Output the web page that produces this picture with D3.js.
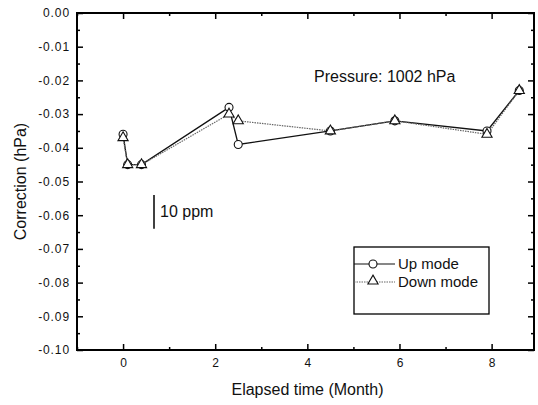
<!DOCTYPE html>
<html><head><meta charset="utf-8">
<script src="https://cdn.jsdelivr.net/npm/d3@7"></script>
<style>body{margin:0;background:#fff}svg{display:block}text{font-family:"Liberation Sans",Arial,sans-serif;fill:#111}</style>
</head><body><svg id="c" width="538" height="405"></svg>
<script>
const upMonths   = [0, 0.1, 0.4, 2.3, 2.5, 4.5, 5.9, 7.9, 8.6];
const upValues   = [-0.036, -0.045, -0.045, -0.028, -0.039, -0.035, -0.032, -0.035, -0.023];
const downMonths = [0, 0.1, 0.4, 2.3, 2.5, 4.5, 5.9, 7.9, 8.6];
const downValues = [-0.037, -0.045, -0.045, -0.030, -0.032, -0.035, -0.032, -0.036, -0.023];
const xTicks = [0, 2, 4, 6, 8];
const xMinor = [-1, 1, 3, 5, 7];
const yTicks = [0, -0.01, -0.02, -0.03, -0.04, -0.05, -0.06, -0.07, -0.08, -0.09, -0.10];
const yMinor = [-0.005, -0.015, -0.025, -0.035, -0.045, -0.055, -0.065, -0.075, -0.085, -0.095];

const L = 77, R = 534, T = 13, B = 350;
const svg = d3.select("#c");
const x = d3.scaleLinear().domain([-1, 8.92]).range([L, R]);
const y = d3.scaleLinear().domain([-0.10, 0]).range([B, T]);

function styleAxis(g){ g.select(".domain").remove(); g.selectAll("line").attr("stroke","#000").attr("stroke-width",1.5); g.selectAll("text").attr("font-size",12).attr("fill","#222"); }
svg.append("g").attr("transform",`translate(0,${B})`).call(d3.axisTop(x).tickValues(xTicks).tickSize(6).tickFormat("")).call(styleAxis);
svg.append("g").attr("transform",`translate(0,${B})`).call(d3.axisTop(x).tickValues(xMinor).tickSize(3).tickFormat("")).call(styleAxis);
svg.append("g").attr("transform",`translate(0,${B})`).call(d3.axisBottom(x).tickValues(xTicks).tickSize(0).tickPadding(8).tickFormat(d3.format("d"))).call(styleAxis);
svg.append("g").attr("transform",`translate(0,${T})`).call(d3.axisBottom(x).tickValues(xTicks).tickSize(6).tickFormat("")).call(styleAxis);
svg.append("g").attr("transform",`translate(0,${T})`).call(d3.axisBottom(x).tickValues(xMinor).tickSize(3).tickFormat("")).call(styleAxis);

svg.append("g").attr("transform",`translate(${L},0)`).call(d3.axisRight(y).tickValues(yTicks).tickSize(6).tickFormat("")).call(styleAxis);
svg.append("g").attr("transform",`translate(${L},0)`).call(d3.axisRight(y).tickValues(yMinor).tickSize(3).tickFormat("")).call(styleAxis);
const yl = svg.append("g").attr("transform",`translate(${L},0)`).call(d3.axisLeft(y).tickValues(yTicks).tickSize(0).tickPadding(7).tickFormat(d=>d3.format(".2f")(d).replace("−","-"))).call(styleAxis);
yl.selectAll("text").attr("letter-spacing",0.9);
svg.append("g").attr("transform",`translate(${R},0)`).call(d3.axisLeft(y).tickValues(yTicks).tickSize(6).tickFormat("")).call(styleAxis);
svg.append("g").attr("transform",`translate(${R},0)`).call(d3.axisLeft(y).tickValues(yMinor).tickSize(3).tickFormat("")).call(styleAxis);

svg.append("rect").attr("x",L).attr("y",T).attr("width",R-L).attr("height",B-T)
  .attr("fill","none").attr("stroke","#000").attr("stroke-width",2);

svg.append("text").attr("x",(L+R)/2 + 2).attr("y",395).attr("text-anchor","middle").attr("font-size",16).text("Elapsed time (Month)");
svg.append("text").attr("transform",`translate(26,${(T+B)/2}) rotate(-90)`).attr("text-anchor","middle").attr("font-size",16).text("Correction (hPa)");

svg.append("text").attr("x",314).attr("y",82).attr("font-size",16).text("Pressure: 1002 hPa");
svg.append("line").attr("x1",154).attr("x2",154).attr("y1",y(-0.054)).attr("y2",y(-0.064)).attr("stroke","#000").attr("stroke-width",1.5);
svg.append("text").attr("x",160).attr("y",217).attr("font-size",16).text("10 ppm");

const up = upMonths.map((m,i)=>[m,upValues[i]]);
const down = downMonths.map((m,i)=>[m,downValues[i]]);
const line = d3.line().x(d=>x(d[0])).y(d=>y(d[1]));
svg.append("path").datum(up).attr("d",line).attr("fill","none").attr("stroke","#111").attr("stroke-width",1.3);
svg.append("path").datum(down).attr("d",line).attr("fill","none").attr("stroke","#666").attr("stroke-width",1.2).attr("stroke-dasharray","1.5,1");

const tri = d3.symbol().type(d3.symbolTriangle).size(45);
svg.append("g").selectAll("circle").data(up).join("circle")
  .attr("cx",d=>x(d[0])).attr("cy",d=>y(d[1])).attr("r",4).attr("fill","#fff").attr("stroke","#111").attr("stroke-width",1.1);
svg.append("g").selectAll("path").data(down).join("path")
  .attr("d",tri).attr("transform",d=>`translate(${x(d[0])},${y(d[1])})`).attr("fill","#fff").attr("stroke","#111").attr("stroke-width",1.1);

const lg = svg.append("g");
lg.append("rect").attr("x",354).attr("y",247).attr("width",135).attr("height",67).attr("fill","#fff").attr("stroke","#000").attr("stroke-width",1.3);
lg.append("line").attr("x1",354).attr("x2",395).attr("y1",264).attr("y2",264).attr("stroke","#111").attr("stroke-width",1.2);
lg.append("circle").attr("cx",373).attr("cy",264).attr("r",4).attr("fill","#fff").attr("stroke","#111").attr("stroke-width",1.1);
lg.append("text").attr("x",398).attr("y",268.5).attr("font-size",15).text("Up mode");
lg.append("line").attr("x1",354).attr("x2",395).attr("y1",282).attr("y2",282).attr("stroke","#666").attr("stroke-width",1.2).attr("stroke-dasharray","1.5,1");
lg.append("path").attr("d",tri).attr("transform","translate(373,281)").attr("fill","#fff").attr("stroke","#111").attr("stroke-width",1.1);
lg.append("text").attr("x",398).attr("y",286.5).attr("font-size",15).text("Down mode");
</script></body></html>
